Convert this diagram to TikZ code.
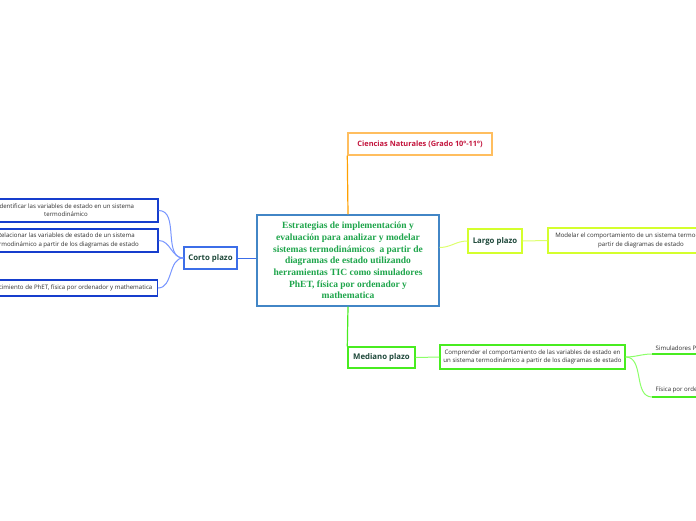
\documentclass[tikz,border=0pt]{standalone}
\usepackage{fontspec}
\setmainfont{Liberation Serif}
\newfontfamily\mapsans{Open Sans}
\usetikzlibrary{calc}
\definecolor{cCentre}{RGB}{66,134,198}
\definecolor{cCentreText}{RGB}{30,165,75}
\definecolor{cOrange}{RGB}{255,160,0}
\definecolor{cOrangeBox}{RGB}{255,190,95}
\definecolor{cRed}{RGB}{195,20,60}
\definecolor{cLabel}{RGB}{30,72,58}
\definecolor{cLeafText}{RGB}{45,45,45}
\definecolor{cCorto}{RGB}{60,110,232}
\definecolor{cCortoLight}{RGB}{120,150,255}
\definecolor{cLeafBlue}{RGB}{22,62,205}
\definecolor{cLargo}{RGB}{212,255,45}
\definecolor{cLargoLight}{RGB}{222,255,110}
\definecolor{cMedio}{RGB}{72,236,32}
\definecolor{cMedioLight}{RGB}{140,255,105}
\tikzset{
  mBox/.style={line width=1.4pt,align=center,inner sep=2pt,fill=white},
  mCentre/.style={mBox,draw=cCentre,line width=1.2pt,text=cCentreText,
        font=\bfseries\fontsize{9.5}{11.7}\selectfont,
        minimum width=182pt,minimum height=91pt},
  mBranch/.style={mBox,font=\mapsans\bfseries\fontsize{7.8}{9}\selectfont,
        text=cLabel,minimum height=22pt},
  mTitle/.style={mBox,font=\mapsans\bfseries\fontsize{7.4}{9}\selectfont,
        text=cRed,draw=cOrangeBox,minimum height=22pt},
  mLeaf/.style={mBox,font=\mapsans\fontsize{6.1}{8.3}\selectfont,text=cLeafText},
  mLink/.style={line width=1pt},
}
\begin{document}
\begin{tikzpicture}[x=1pt,y=-1pt]
\useasboundingbox (0,0) rectangle (696,520);
\clip (0,0) rectangle (696,520);
\fill[white] (0,0) rectangle (696,520);
\node[mCentre] (centre) at (348,260.5) {Estrategias de implementación y\\evaluación para analizar y modelar\\sistemas termodinámicos\ \ a partir de\\diagramas de estado utilizando\\herramientas TIC como simuladores\\PhET, física por ordenador y\\mathematica};
\node[mTitle,minimum width=144pt] (cn) at (420,144) {Ciencias Naturales (Grado 10º-11º)};
\node[mBranch,draw=cCorto,line width=1.2pt,minimum width=53pt] (cp) at (210.5,258) {Corto plazo};
\node[mBranch,draw=cLargo,minimum width=54pt,minimum height=24pt] (lp) at (495,241) {Largo plazo};
\node[mBranch,draw=cMedio,minimum width=67pt,minimum height=21pt] (mp) at (381.5,357.5) {Mediano plazo};
\node[mLeaf,draw=cLeafBlue,minimum width=184pt,minimum height=23pt] (c1) at (66,210.5) {Identificar las variables de estado en un sistema\\termodinámico};
\node[mLeaf,draw=cLeafBlue,minimum width=184pt,minimum height=23pt] (c2) at (66,240.5) {Relacionar las variables de estado de un sistema\\termodinámico a partir de los diagramas de estado};
\node[mLeaf,draw=cLeafBlue,minimum height=16pt,inner xsep=5pt,anchor=east] (c3) at (158,288) {Conocimiento de PhET, física por ordenador y mathematica};
\node[mLeaf,draw=cLargo,minimum width=186pt,minimum height=25pt] (l1) at (641,240.5) {Modelar el comportamiento de un sistema termodinámico a\\partir de diagramas de estado};
\node[mLeaf,draw=cMedio,minimum width=185pt,minimum height=24pt] (m1) at (532.5,357) {Comprender el comportamiento de las variables de estado en\\un sistema termodinámico a partir de los diagramas de estado};
\node[mLeaf,fill=none,anchor=south west,inner sep=3pt] (m2) at (652,354) {Simuladores PhET};
\node[mLeaf,fill=none,anchor=south west,inner sep=3pt] (m3) at (652,397) {Física por ordenador};
\draw[mLink,cOrange,line width=1.2pt] (centre.north) -- (cn.south west);
\draw[mLink,cCorto] (cp.east) -- (cp.east -| centre.west);
\foreach \n in {c1,c2,c3}
  \draw[mLink,cCortoLight] (cp.west) to[out=180,in=0] (\n.east);
\draw[mLink,cLargoLight] ($(centre.east)+(0,-13)$) to[out=0,in=180] (lp.west);
\draw[mLink,cLargoLight] (lp.east) -- (l1.west);
\draw[mLink,cMedio,line width=1.2pt] (centre.south) -- (mp.north west);
\draw[mLink,cMedioLight] (mp.east) -- (m1.west);
\foreach \n in {m2,m3}
  \draw[mLink,cMedioLight] (m1.east) to[out=0,in=180] (\n.south west);
\foreach \n in {m2,m3}
  \draw[line width=1.4pt,cMedio] (\n.south west) -- ++(60,0);
\end{tikzpicture}
\end{document}
